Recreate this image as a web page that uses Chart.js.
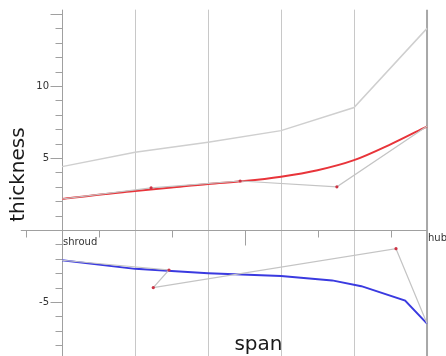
<!DOCTYPE html>
<html lang="en">
<head>
  <meta charset="UTF-8" />
  <title>Blade thickness</title>
  <script src="https://cdn.jsdelivr.net/npm/chart.js"></script>
  <style>
    body { margin: 0; background: #fff; }
    #wrap { width: 446px; height: 356px; }
  </style>
</head>
<body>
  <div id="wrap"><canvas id="chart" width="446" height="356"></canvas></div>
  <script>
    // span positions / values
    const envelopeSpan = [0, 0.2, 0.4, 0.6, 0.8, 1.0];
    const envelopeThk = [4.4, 5.4, 6.1, 6.9, 8.5, 14.0];

    const upperSpan = [0, 0.1, 0.2, 0.3, 0.4, 0.5, 0.6, 0.7, 0.8, 0.9, 1.0];
    const upperThk = [2.15, 2.45, 2.7, 2.95, 3.2, 3.4, 3.7, 4.15, 4.85, 5.95, 7.2];

    const upperCtrlSpan = [0, 0.244, 0.488, 0.753, 1.0];
    const upperCtrlThk = [2.15, 2.92, 3.4, 3.0, 7.2];

    const lowerSpan = [0, 0.2, 0.4, 0.6, 0.74, 0.82, 0.94, 1.0];
    const lowerThk = [-2.1, -2.7, -3.0, -3.2, -3.5, -3.9, -4.9, -6.5];

    const lowerCtrlSpan = [0, 0.293, 0.25, 0.915, 1.0];
    const lowerCtrlThk = [-2.1, -2.78, -4.0, -1.3, -6.5];

    const gridSpan = [0.2, 0.4, 0.6, 0.8];
    const xShortTicks = [-0.1, 0.1, 0.3, 0.7, 0.9];
    const xLongTicks = [0.5];
    const yTickLabels = [10, 5, -5];

    const pts = (xs, ys) => xs.map((x, i) => ({ x: x, y: ys[i] }));

    // axes drawn through the chart's own scales
    const axesPlugin = {
      id: "axes",
      beforeDatasetsDraw(chart) {
        const ctx = chart.ctx;
        const xs = chart.scales.x, ys = chart.scales.y;
        const top = ys.getPixelForValue(15.3);
        const bottom = chart.height;
        const x0 = xs.getPixelForValue(0);
        const y0 = ys.getPixelForValue(0);
        ctx.save();

        // vertical grid
        ctx.strokeStyle = "#c8c8c8";
        ctx.lineWidth = 1;
        gridSpan.forEach(v => {
          const px = Math.round(xs.getPixelForValue(v)) + 0.5;
          ctx.beginPath(); ctx.moveTo(px, top); ctx.lineTo(px, bottom); ctx.stroke();
        });
        // hub line
        ctx.strokeStyle = "#a8a8a8";
        ctx.lineWidth = 2;
        const hx = xs.getPixelForValue(1);
        ctx.beginPath(); ctx.moveTo(hx, top); ctx.lineTo(hx, bottom); ctx.stroke();

        // y axis
        ctx.strokeStyle = "#a0a0a0";
        ctx.lineWidth = 1;
        const ax = Math.round(x0) + 0.5;
        ctx.beginPath(); ctx.moveTo(ax, top); ctx.lineTo(ax, bottom); ctx.stroke();
        for (let v = -8; v <= 15; v++) {
          const py = Math.round(ys.getPixelForValue(v)) + 0.5;
          const len = v % 5 === 0 ? 12 : 7;
          ctx.beginPath(); ctx.moveTo(ax - len, py); ctx.lineTo(ax, py); ctx.stroke();
        }

        // x axis
        const ay = Math.round(y0) + 0.5;
        ctx.beginPath(); ctx.moveTo(xs.getPixelForValue(-0.113), ay); ctx.lineTo(hx, ay); ctx.stroke();
        xShortTicks.forEach(v => {
          const px = Math.round(xs.getPixelForValue(v)) + 0.5;
          ctx.beginPath(); ctx.moveTo(px, ay); ctx.lineTo(px, ay + 7); ctx.stroke();
        });
        xLongTicks.forEach(v => {
          const px = Math.round(xs.getPixelForValue(v)) + 0.5;
          ctx.beginPath(); ctx.moveTo(px, ay); ctx.lineTo(px, ay + 15); ctx.stroke();
        });

        // tick labels
        ctx.fillStyle = "#333";
        ctx.font = "10px 'DejaVu Sans'";
        ctx.textAlign = "right";
        ctx.textBaseline = "middle";
        yTickLabels.forEach(v => {
          ctx.fillText(String(v), x0 - 13, ys.getPixelForValue(v));
        });
        ctx.textAlign = "left";
        ctx.fillText("shroud", x0 + 1, y0 + 12);
        ctx.fillText("hub", hx + 1, y0 + 8);

        // axis titles
        ctx.fillStyle = "#1a1a1a";
        ctx.font = "20px 'DejaVu Sans'";
        ctx.textAlign = "center";
        ctx.textBaseline = "alphabetic";
        ctx.fillText("span", xs.getPixelForValue(0.538), 350);
        ctx.translate(24, ys.getPixelForValue(3.85));
        ctx.rotate(-Math.PI / 2);
        ctx.fillText("thickness", 0, 0);
        ctx.restore();
      }
    };

    new Chart(document.getElementById("chart"), {
      type: "line",
      data: {
        datasets: [
          { data: pts(envelopeSpan, envelopeThk), borderColor: "#cfcfcf", borderWidth: 1.5, pointRadius: 0 },
          { data: pts(upperCtrlSpan, upperCtrlThk), borderColor: "#c4c4c4", borderWidth: 1.2,
            pointRadius: [0, 1.6, 1.6, 1.6, 0], pointBackgroundColor: "#cc3344", pointBorderWidth: 0 },
          { data: pts(lowerCtrlSpan, lowerCtrlThk), borderColor: "#c4c4c4", borderWidth: 1.2,
            pointRadius: [0, 1.6, 1.6, 1.6, 0], pointBackgroundColor: "#cc3344", pointBorderWidth: 0 },
          { data: pts(upperSpan, upperThk), borderColor: "#e8343a", borderWidth: 2, pointRadius: 0,
            cubicInterpolationMode: "monotone" },
          { data: pts(lowerSpan, lowerThk), borderColor: "#3a3ae0", borderWidth: 2, pointRadius: 0 }
        ]
      },
      options: {
        responsive: false,
        animation: false,
        layout: { padding: 0 },
        plugins: { legend: { display: false }, tooltip: { enabled: false } },
        scales: {
          x: { type: "linear", min: -0.17, max: 1.052, display: false },
          y: { type: "linear", min: -8.75, max: 15.97, display: false }
        }
      },
      plugins: [axesPlugin]
    });
  </script>
</body>
</html>
